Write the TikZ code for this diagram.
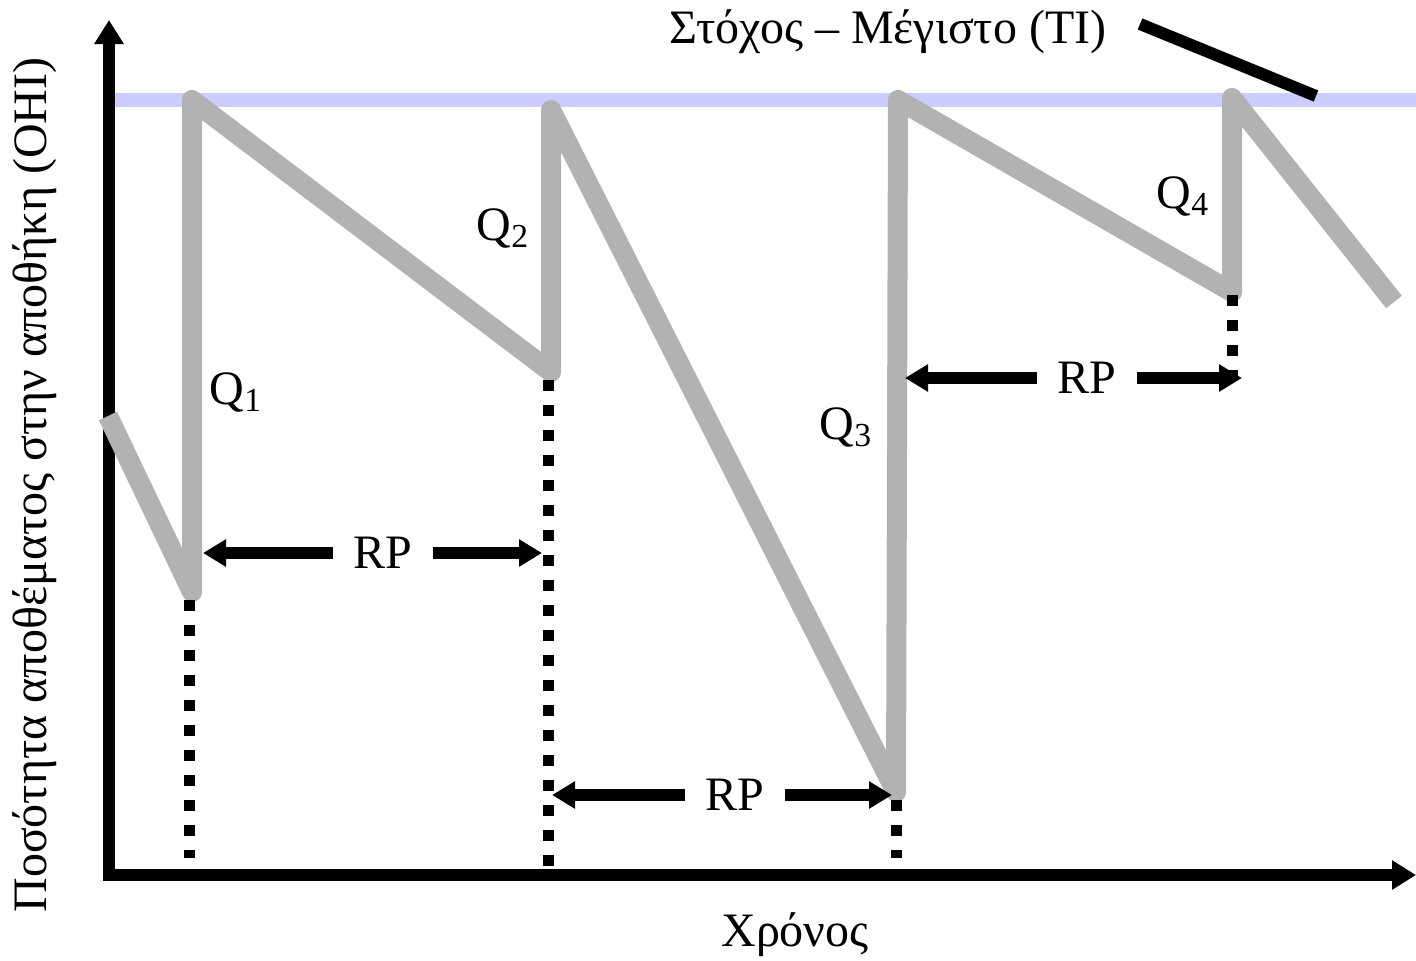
\documentclass[tikz,border=0pt]{standalone}
\usepackage{fontspec}
\setmainfont{Liberation Serif}
\usepackage{tikz}
\usetikzlibrary{arrows.meta, positioning, calc}
\definecolor{stockgray}{HTML}{B2B2B2}
\definecolor{targetblue}{HTML}{CCCCFF}
\tikzstyle{axis} = [line width=6pt, -{Triangle[length=12pt,width=14pt]}]
\tikzstyle{stock} = [line width=10pt, draw=stockgray, line join=round]
\tikzstyle{target} = [line width=7pt, draw=targetblue]
\tikzstyle{lead} = [line width=5.5pt, dash pattern=on 5.5pt off 7pt]
\tikzstyle{rparrow} = [line width=6pt, -{Triangle[length=11.5pt,width=13pt]}]
\tikzstyle{txt} = [font=\fontsize{24}{28}\selectfont, inner sep=0pt]
\tikzstyle{rp} = [txt, inner xsep=10pt]

\begin{document}
\begin{tikzpicture}[x=0.5pt, y=-0.5pt]
    \useasboundingbox (0,0) rectangle (1416,960);

    % target level (TI)
    \coordinate (tiL) at (115,100);
    \coordinate (tiR) at (1416,100);
    \draw[target] (tiL) -- (tiR);

    % axes
    \coordinate (o) at (109,875);
    \coordinate (ytop) at (109,20);
    \coordinate (xend) at (1416,875);
    \draw[axis] ($(o)+(0,6)$) -- (ytop);
    \draw[axis] ($(o)+(-6,0)$) -- (xend);

    % on hand inventory
    \draw[stock] (108,416) -- (192,592) -- (192,100) -- (551,372) -- (551,110)
        -- (896,792) -- (898,100) -- (1232,292) -- (1232,98) -- (1394,302);

    % order points
    \draw[lead] (189,600) -- (189,858);
    \draw[lead] (548,380) -- (548,868);
    \draw[lead] (896,800) -- (896,858);
    \draw[lead] (1232,295) -- (1232,380);

    % review periods
    \node (rp1) [rp] at (383,553) {RP};
    \coordinate (rp1l) at (203,553);
    \coordinate (rp1r) at (542,553);
    \draw[rparrow] (rp1.west) -- (rp1l);
    \draw[rparrow] (rp1.east) -- (rp1r);

    \node (rp2) [rp] at (735,795) {RP};
    \coordinate (rp2l) at (552,795);
    \coordinate (rp2r) at (892,795);
    \draw[rparrow] (rp2.west) -- (rp2l);
    \draw[rparrow] (rp2.east) -- (rp2r);

    \node (rp3) [rp] at (1087,378) {RP};
    \coordinate (rp3l) at (905,378);
    \coordinate (rp3r) at (1242,378);
    \draw[rparrow] (rp3.west) -- (rp3l);
    \draw[rparrow] (rp3.east) -- (rp3r);

    % order quantities
    \node (q1) [txt] at (236,392) {Q\textsubscript{1}};
    \node (q2) [txt] at (503,228) {Q\textsubscript{2}};
    \node (q3) [txt] at (846,427) {Q\textsubscript{3}};
    \node (q4) [txt] at (1183,196) {Q\textsubscript{4}};

    % titles
    \node (ti) [txt] at (888,32) {Στόχος – Μέγιστο (TI)};
    \coordinate (tiA) at (1140,24);
    \coordinate (tiB) at (1316,96);
    \draw[line width=6pt] (tiA) -- (tiB);
    \node (ylab) [txt, rotate=90] at (35,485) {Ποσότητα αποθέματος στην αποθήκη (OHI)};
    \node (xlab) [txt] at (795,935) {Χρόνος};
\end{tikzpicture}
\end{document}
